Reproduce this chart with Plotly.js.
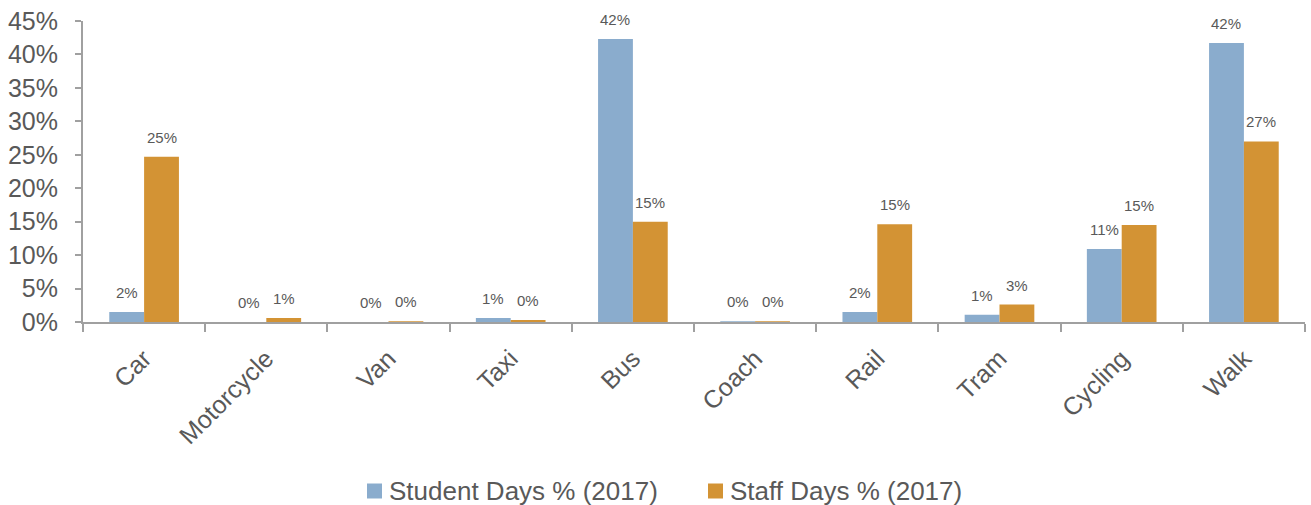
<!DOCTYPE html>
<html>
<head>
<meta charset="utf-8">
<script src="https://cdn.plot.ly/plotly-3.0.1.min.js"></script>
<style>html,body{margin:0;padding:0;background:#fff;}#chart{width:1311px;height:505px;}</style>
</head>
<body>
<div id="chart"></div>
<script>
const categories = ["Car","Motorcycle","Van","Taxi","Bus","Coach","Rail","Tram","Cycling","Walk"];
const studentValues = [1.5, 0.0, 0.0, 0.6, 42.3, 0.1, 1.5, 1.1, 10.9, 41.7];
const staffValues = [24.7, 0.6, 0.1, 0.3, 15.0, 0.1, 14.6, 2.6, 14.5, 27.0];
const seriesNames = ["Student Days % (2017)", "Staff Days % (2017)"];
const yTickValues = [0,5,10,15,20,25,30,35,40,45];

const colors = ["#8AACCD", "#D39334"];
const textColor = "#595959";
const axisColor = "#A0A0A0";
const bargap = 0.43;
const W = 1311, H = 505;
const plotLeft = 83, plotRight = 6, plotTop = 21, plotBottom = 183;
const plotWidth = W - plotLeft - plotRight;
const plotHeight = H - plotTop - plotBottom;
const barHalf = plotWidth / categories.length * (1 - bargap) / 4;
const px2x = p => (p - plotLeft) / plotWidth;
const px2y = p => (H - plotBottom - p) / plotHeight;

const traces = [studentValues, staffValues].map((vals, i) => ({
  type: "bar",
  name: seriesNames[i],
  x: categories,
  y: vals,
  marker: {color: colors[i], line: {width: 0}},
  hoverinfo: "skip",
  showlegend: false
}));

const annotations = [];
[studentValues, staffValues].forEach((vals, i) => {
  vals.forEach((v, j) => {
    annotations.push({
      x: categories[j], y: v, xref: "x", yref: "y",
      text: Math.round(v) + "%",
      showarrow: false,
      xshift: (i === 0 ? -1 : 1) * barHalf,
      yshift: 9,
      yanchor: "bottom",
      font: {family: "Liberation Sans, Arial, sans-serif", size: 15, color: textColor}
    });
  });
});

// legend (drawn manually to match the reference placement)
const legendSquareLeft = [367, 708];
const legendSquareSize = 15;
const legendCenterY = 491;
const shapes = [];
seriesNames.forEach((name, i) => {
  const x0 = legendSquareLeft[i];
  shapes.push({
    type: "rect", xref: "paper", yref: "paper",
    x0: px2x(x0), x1: px2x(x0 + legendSquareSize),
    y0: px2y(legendCenterY + legendSquareSize / 2), y1: px2y(legendCenterY - legendSquareSize / 2),
    fillcolor: colors[i], line: {width: 0}
  });
  annotations.push({
    xref: "paper", yref: "paper",
    x: px2x(x0 + legendSquareSize + 5), y: px2y(legendCenterY),
    xanchor: "left", yanchor: "middle",
    text: name, showarrow: false,
    font: {family: "Liberation Sans, Arial, sans-serif", size: 26, color: textColor}
  });
});

const layout = {
  width: W, height: H,
  margin: {l: plotLeft, r: plotRight, t: plotTop, b: plotBottom},
  paper_bgcolor: "#fff", plot_bgcolor: "#fff",
  font: {family: "Liberation Sans, Arial, sans-serif", color: textColor},
  barmode: "group",
  bargap: bargap,
  bargroupgap: 0,
  showlegend: false,
  xaxis: {
    type: "category",
    tickangle: -45,
    tickfont: {size: 25, color: textColor},
    ticklabelstandoff: 10,
    showline: true, linecolor: axisColor, linewidth: 2,
    ticks: "outside", tickson: "boundaries", ticklen: 8, tickcolor: axisColor, tickwidth: 2,
    showgrid: false, zeroline: false, fixedrange: true
  },
  yaxis: {
    range: [0, 45],
    tickvals: yTickValues,
    ticktext: yTickValues.map(v => v + "%"),
    tickfont: {size: 25, color: textColor},
    ticklabelstandoff: 12,
    showline: true, linecolor: axisColor, linewidth: 2,
    ticks: "outside", ticklen: 6, tickcolor: axisColor, tickwidth: 2,
    showgrid: false, zeroline: false, fixedrange: true
  },
  shapes: shapes,
  annotations: annotations
};

Plotly.newPlot("chart", traces, layout, {displayModeBar: false, staticPlot: true});
</script>
</body>
</html>
